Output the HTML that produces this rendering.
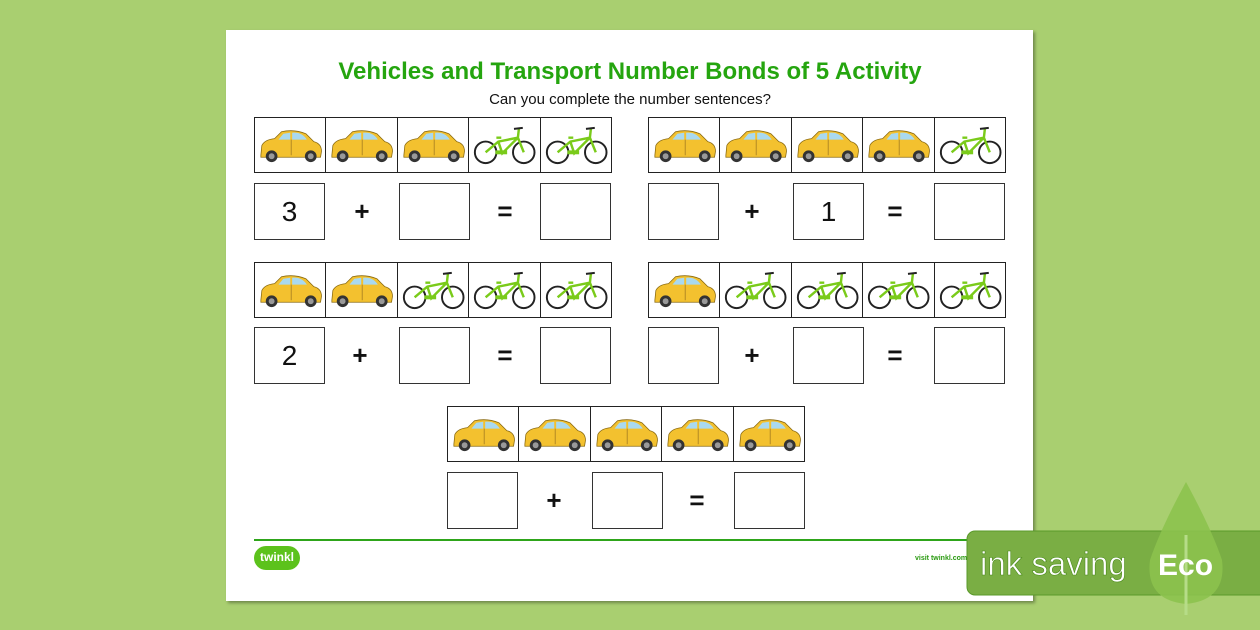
<!DOCTYPE html>
<html><head><meta charset="utf-8"><style>
*{margin:0;padding:0;box-sizing:border-box}
body{width:1260px;height:630px;background:#a9cf70;position:relative;overflow:hidden;font-family:"Liberation Sans",sans-serif}
.paper{position:absolute;left:226px;top:30px;width:807px;height:571px;background:#fff;box-shadow:2px 2px 3px rgba(0,0,0,.35)}
.t{position:absolute;left:0;width:1260px;text-align:center}
.strip{position:absolute;height:56px;border:1.5px solid #222;display:flex;background:#fff}
.strip svg{flex:1;height:100%;border-right:1.5px solid #222}
.strip svg:last-child{border-right:none}
.b{position:absolute;width:71px;height:57px;border:1.2px solid #333;background:#fff;font-size:28px;text-align:center;line-height:55px;color:#111}
.op{position:absolute;font-size:26px;font-weight:bold;color:#111;width:30px;text-align:center;line-height:57px;height:57px}
</style></head><body>
<svg width="0" height="0" style="position:absolute">
<defs>
<symbol id="car" viewBox="0 0 72 55">
<path d="M6 38 L7 28 Q10 22 20 21 L27 14 Q40 11 52 16 L60 24 Q68 26 68 34 L67 40 L6 40Z" fill="#f3c12f" stroke="#8a6a10" stroke-width=".8"/>
<path d="M29 16 L36 15 L36 22 L24 22Z M38 15 Q48 14 53 22 L38 22Z" fill="#a9d9ef"/>
<line x1="37" y1="22" x2="37" y2="38" stroke="#a07a20" stroke-width=".8"/>
<circle cx="17" cy="39" r="6" fill="#333"/><circle cx="17" cy="39" r="3" fill="#999"/>
<circle cx="57" cy="39" r="6" fill="#333"/><circle cx="57" cy="39" r="3" fill="#999"/>
</symbol>
<symbol id="bike" viewBox="0 0 72 55">
<circle cx="17" cy="35" r="11" fill="none" stroke="#222" stroke-width="2"/>
<circle cx="56" cy="35" r="11" fill="none" stroke="#222" stroke-width="2"/>
<path d="M17 35 L30 24 L50 20 L56 35 M30 24 L34 36 L50 20 M50 20 L51 11 M28 20 L33 20" fill="none" stroke="#7acb1a" stroke-width="2.5"/>
<rect x="27" y="33" width="12" height="4" fill="#7acb1a"/>
<path d="M46 11 L55 10" stroke="#222" stroke-width="2"/>
</symbol>
</defs></svg>
<div class="paper"></div>
<div class="t" style="top:58px;font-size:24px;font-weight:bold;color:#25a50f">Vehicles and Transport Number Bonds of 5 Activity</div>
<div class="t" style="top:91px;font-size:15px;color:#111">Can you complete the number sentences?</div>

<div class="strip" style="left:254px;top:117px;width:358px"><svg><use href="#car"/></svg><svg><use href="#car"/></svg><svg><use href="#car"/></svg><svg><use href="#bike"/></svg><svg><use href="#bike"/></svg></div>
<div class="b" style="left:254px;top:183px">3</div><div class="op" style="left:347px;top:183px">+</div><div class="b" style="left:399px;top:183px"></div><div class="op" style="left:490px;top:183px">=</div><div class="b" style="left:540px;top:183px"></div>

<div class="strip" style="left:648px;top:117px;width:358px"><svg><use href="#car"/></svg><svg><use href="#car"/></svg><svg><use href="#car"/></svg><svg><use href="#car"/></svg><svg><use href="#bike"/></svg></div>
<div class="b" style="left:648px;top:183px"></div><div class="op" style="left:737px;top:183px">+</div><div class="b" style="left:793px;top:183px">1</div><div class="op" style="left:880px;top:183px">=</div><div class="b" style="left:934px;top:183px"></div>

<div class="strip" style="left:254px;top:262px;width:358px"><svg><use href="#car"/></svg><svg><use href="#car"/></svg><svg><use href="#bike"/></svg><svg><use href="#bike"/></svg><svg><use href="#bike"/></svg></div>
<div class="b" style="left:254px;top:327px">2</div><div class="op" style="left:345px;top:327px">+</div><div class="b" style="left:399px;top:327px"></div><div class="op" style="left:490px;top:327px">=</div><div class="b" style="left:540px;top:327px"></div>

<div class="strip" style="left:648px;top:262px;width:358px"><svg><use href="#car"/></svg><svg><use href="#bike"/></svg><svg><use href="#bike"/></svg><svg><use href="#bike"/></svg><svg><use href="#bike"/></svg></div>
<div class="b" style="left:648px;top:327px"></div><div class="op" style="left:737px;top:327px">+</div><div class="b" style="left:793px;top:327px"></div><div class="op" style="left:880px;top:327px">=</div><div class="b" style="left:934px;top:327px"></div>

<div class="strip" style="left:447px;top:406px;width:358px"><svg><use href="#car"/></svg><svg><use href="#car"/></svg><svg><use href="#car"/></svg><svg><use href="#car"/></svg><svg><use href="#car"/></svg></div>
<div class="b" style="left:447px;top:472px"></div><div class="op" style="left:539px;top:472px">+</div><div class="b" style="left:592px;top:472px"></div><div class="op" style="left:682px;top:472px">=</div><div class="b" style="left:734px;top:472px"></div>

<div style="position:absolute;left:254px;top:539px;width:752px;height:2px;background:#2ea51a"></div>
<div style="position:absolute;left:254px;top:546px;width:46px;height:24px;border-radius:12px;background:#5cc21c;color:#fff;font-weight:bold;font-size:12px;text-align:center;line-height:22px">twinkl</div>
<div style="position:absolute;left:915px;top:555px;font-size:7px;color:#2a9a10;font-weight:bold">visit twinkl.com</div>

<svg style="position:absolute;left:0;top:0" width="1260" height="630">
<rect x="967" y="531" width="300" height="64" rx="8" fill="#7aae44" stroke="#5a9a2a" stroke-width="1"/>
<path d="M1186 482 Q1160 530 1150 560 Q1145 600 1186 604 Q1227 600 1222 560 Q1212 530 1186 482Z" fill="#8cc24e" opacity=".9"/>
<line x1="1186" y1="535" x2="1186" y2="615" stroke="#b6dc88" stroke-width="3"/>
<text x="980" y="575" font-family="Liberation Sans, sans-serif" font-size="33" fill="#fff" stroke="#4a8a1a" stroke-width=".6">ink saving</text>
<text x="1158" y="575" font-family="Liberation Sans, sans-serif" font-size="30" font-weight="bold" fill="#fff">Eco</text>
</svg>
</body></html>
